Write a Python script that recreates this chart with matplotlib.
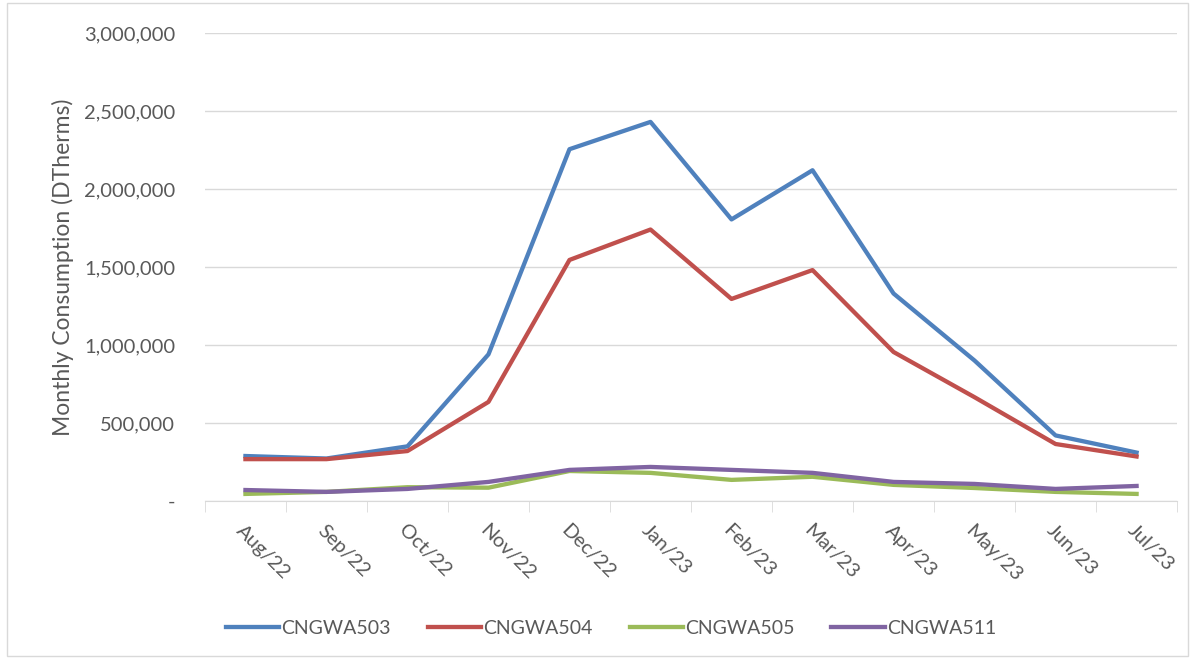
import matplotlib.pyplot as plt
from matplotlib.patches import Rectangle
from matplotlib.ticker import FuncFormatter, FixedLocator, NullFormatter

plt.rcParams['font.family'] = ['Lato', 'DejaVu Sans']

# monthly consumption by rate schedule (DTherms)
months = ['Aug/22', 'Sep/22', 'Oct/22', 'Nov/22', 'Dec/22', 'Jan/23',
          'Feb/23', 'Mar/23', 'Apr/23', 'May/23', 'Jun/23', 'Jul/23']
cngwa503 = [288000, 272000, 350000, 940000, 2255000, 2430000,
            1805000, 2120000, 1330000, 900000, 420000, 310000]
cngwa504 = [268000, 268000, 320000, 635000, 1545000, 1740000,
            1295000, 1480000, 955000, 665000, 365000, 285000]
cngwa505 = [45000, 58000, 88000, 85000, 192000, 180000,
            135000, 155000, 103000, 83000, 58000, 45000]
cngwa511 = [70000, 58000, 77000, 122000, 199000, 218000,
            199000, 180000, 122000, 109000, 77000, 96000]

series = [('CNGWA503', cngwa503, '#4F81BD'),
          ('CNGWA504', cngwa504, '#C0504D'),
          ('CNGWA505', cngwa505, '#9BBB59'),
          ('CNGWA511', cngwa511, '#8064A2')]

txt = '#595959'

fig = plt.figure(figsize=(11.95, 6.6), dpi=100)
ax = fig.add_axes([0.1715, 0.241, 0.8135, 0.709])

x = list(range(len(months)))
for name, vals, col in series:
    ax.plot(x, vals, color=col, lw=3.1, label=name, solid_joinstyle='round')

ax.set_xlim(-0.5, len(months) - 0.5)
ax.set_ylim(0, 3000000)
ax.set_yticks(range(0, 3000001, 500000))
ax.yaxis.set_major_formatter(FuncFormatter(lambda v, p: '-' if v == 0 else f'{int(v):,}'))
ax.grid(axis='y', color='#D9D9D9', lw=1)
ax.set_axisbelow(True)

# category boundaries get the tick marks, labels sit at the category centres
ax.set_xticks(x)
ax.set_xticklabels(months, rotation=-45, ha='left', va='top', rotation_mode='anchor')
ax.xaxis.set_minor_locator(FixedLocator([i - 0.5 for i in range(len(months) + 1)]))
ax.xaxis.set_minor_formatter(NullFormatter())
ax.tick_params(axis='x', which='major', length=0, pad=15, labelsize=14.5, labelcolor=txt)
ax.tick_params(axis='x', which='minor', length=8, color='#D9D9D9')
ax.tick_params(axis='y', length=0, pad=21.5, labelsize=14.5, labelcolor=txt)

for s in ['top', 'right', 'left']:
    ax.spines[s].set_visible(False)
ax.spines['bottom'].set_color('#D9D9D9')

ax.set_ylabel('Monthly Consumption (DTherms)', fontsize=16.5, color=txt, labelpad=7)

leg = fig.legend(loc='center left', bbox_to_anchor=(0.1745, 32 / 660), ncol=4, frameon=False,
                 fontsize=14, handlelength=2.75, handletextpad=0.1, columnspacing=1.9)
for t in leg.get_texts():
    t.set_color(txt)

fig.patches.append(Rectangle((0.006, 0.006), 0.988, 0.99, transform=fig.transFigure,
                             fill=False, edgecolor='#D9D9D9', lw=1))

fig.savefig('out.png', dpi=100)
